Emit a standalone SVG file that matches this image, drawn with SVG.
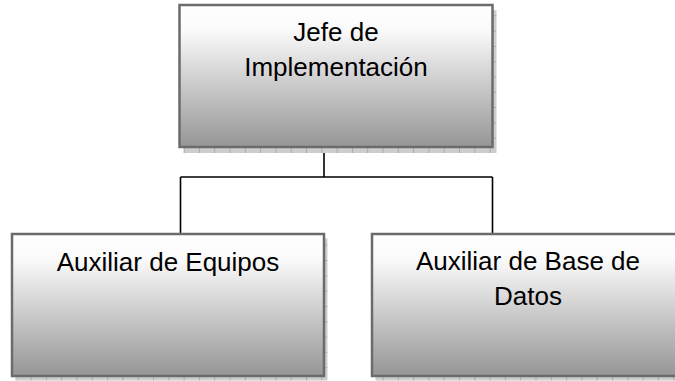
<svg xmlns="http://www.w3.org/2000/svg" width="675" height="381" viewBox="0 0 675 381">
<style>
.box{fill:url(#g);stroke:#6b6b6b;stroke-width:2.5}
.sh{fill:url(#grid)}
.t{font-family:"Liberation Sans",Arial,sans-serif;font-size:26px;fill:#000;text-anchor:middle}
.c{fill:none;stroke:#000;stroke-width:1.6}
</style>
<defs>
<linearGradient id="g" x1="0" y1="0" x2="0" y2="1">
<stop offset="0" stop-color="#ffffff"/>
<stop offset="0.18" stop-color="#fafafa"/>
<stop offset="0.5" stop-color="#d2d2d2"/>
<stop offset="1" stop-color="#969696"/>
</linearGradient>
<pattern id="grid" width="15.3" height="15.3" patternUnits="userSpaceOnUse">
<rect width="15.3" height="15.3" fill="#cdcdcd"/>
<path d="M0.5 0V15.3M0 0.5H15.3" stroke="#a9a9a9" stroke-width="1"/>
</pattern>
</defs>
<g id="connectors">
<path class="c" d="M324 147V177M180.5 177H492.5M180.5 177V234M492.5 177V234"/>
</g>
<g id="jefe">
<rect class="sh" x="183.5" y="10" width="313" height="143"/>
<rect class="box" x="179.5" y="5" width="313" height="142"/>
<text class="t" x="336" y="41">Jefe de</text>
<text class="t" x="336" y="76">Implementación</text>
</g>
<g id="aux-equipos">
<rect class="sh" x="15.5" y="238.5" width="312" height="142"/>
<rect class="box" x="12" y="234" width="312" height="142"/>
<text class="t" x="168" y="271">Auxiliar de Equipos</text>
</g>
<g id="aux-bd">
<rect class="sh" x="375.5" y="238.5" width="312" height="142"/>
<rect class="box" x="372" y="234" width="312" height="142"/>
<text class="t" x="528" y="270">Auxiliar de Base de</text>
<text class="t" x="528" y="305">Datos</text>
</g>
</svg>
